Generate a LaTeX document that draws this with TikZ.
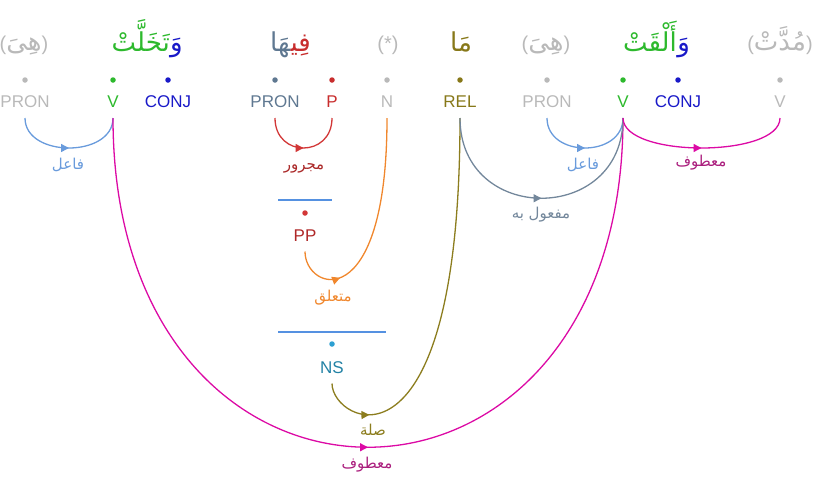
\documentclass[tikz,border=0pt]{standalone}
\usepackage{fontspec}
\setmainfont{Liberation Sans}
\newfontfamily\arabicfont[Script=Arabic]{DejaVu Sans}
\TeXXeTstate=1
\usetikzlibrary{arrows.meta,decorations.markings}

% token colours
\definecolor{cgrey}{RGB}{185,185,185}
\definecolor{cverb}{RGB}{45,185,45}
\definecolor{cconj}{RGB}{25,25,200}
\definecolor{cpron}{RGB}{95,120,145}
\definecolor{cprep}{RGB}{200,45,45}
\definecolor{cpp}{RGB}{175,40,40}
\definecolor{crel}{RGB}{135,120,25}
\definecolor{cns}{RGB}{35,130,165}
\definecolor{cnsdot}{RGB}{45,160,210}
% relation colours
\definecolor{esubj}{RGB}{105,155,220}
\definecolor{egen}{RGB}{210,55,55}
\definecolor{egenlbl}{RGB}{170,40,40}
\definecolor{elink}{RGB}{240,135,45}
\definecolor{erel}{RGB}{140,125,30}
\definecolor{econj}{RGB}{220,10,165}
\definecolor{econjlbl}{RGB}{170,30,125}
\definecolor{eobj}{RGB}{115,135,155}
\definecolor{cbar}{RGB}{85,145,225}

\newcommand\arword[1]{{\arabicfont\fontsize{26}{30}\selectfont\beginR #1\endR}}
\newcommand\arlabel[1]{{\arabicfont\fontsize{15}{18}\selectfont\beginR #1\endR}}

\tikzset{
  word/.style={inner sep=0pt, font=\fontsize{20}{24}\selectfont, anchor=base},
  tag/.style={font=\fontsize{17}{20}\selectfont, inner sep=0pt, text height=12.5pt,
              text depth=0pt, outer ysep=10.5pt, anchor=base, text=#1},
  tok/.style={circle, fill=#1, inner sep=0pt, minimum size=5.5pt},
  rel/.style={inner sep=0pt, text=#1},
  edge/.style={color=#1, line width=1.3pt},
  mid/.style={postaction={decorate}, decoration={markings,
              mark=at position #1 with {\arrow{Triangle[length=8pt,width=8pt]}}}},
  bar/.style={draw=cbar, line width=1.3pt}
}

\begin{document}
\begin{tikzpicture}[x=1pt,y=-1pt]
\useasboundingbox (0,0) rectangle (814,477);

% words (each coloured segment is its own node, laid out right to left)
\node[word, text=cgrey] (w1) at (24,50) {(\arword{هِىَ})};
\node[word, text=cconj, anchor=base east] (w2c) at (183,51) {\arword{وَ}};
\node[word, text=cverb, anchor=base east] (w2v) at (w2c.base west) {\arword{تَخَلَّتْ}};
\node[word, text=cprep, anchor=base east] (w3p) at (311,51) {\arword{فِي^^^^200d}};
\node[word, text=cpron, anchor=base east] (w3n) at (w3p.base west) {\arword{^^^^200dهَا}};
\node[word, text=cgrey] (w4) at (388,50) {(*)};
\node[word, text=crel] (w5) at (461,51) {\arword{مَا}};
\node[word, text=cgrey] (w6) at (546,50) {(\arword{هِىَ})};
\node[word, text=cconj, anchor=base east] (w7c) at (690,51) {\arword{وَ}};
\node[word, text=cverb, anchor=base east] (w7v) at (w7c.base west) {\arword{أَلْقَتْ}};
\node[word, text=cgrey] (w8) at (780,50) {(\arword{مُدَّتْ})};

% token dots
\node[tok=cgrey]  (d1)  at (25,80) {};
\node[tok=cverb]  (d2)  at (113,80) {};
\node[tok=cconj]  (d3)  at (168,80) {};
\node[tok=cpron]  (d4)  at (275,80) {};
\node[tok=cprep]  (d5)  at (332,80) {};
\node[tok=cgrey]  (d6)  at (387,80) {};
\node[tok=crel]   (d7)  at (460,80) {};
\node[tok=cgrey]  (d8)  at (547,80) {};
\node[tok=cverb]  (d9)  at (623,80) {};
\node[tok=cconj]  (d10) at (678,80) {};
\node[tok=cgrey]  (d11) at (780,80) {};

% part-of-speech tags
\node[tag=cgrey] (t1)  at (25,107.5)  {PRON};
\node[tag=cverb] (t2)  at (113,107.5) {V};
\node[tag=cconj] (t3)  at (168,107.5) {CONJ};
\node[tag=cpron] (t4)  at (275,107.5) {PRON};
\node[tag=cprep] (t5)  at (332,107.5) {P};
\node[tag=cgrey] (t6)  at (387,107.5) {N};
\node[tag=crel]  (t7)  at (460,107.5) {REL};
\node[tag=cgrey] (t8)  at (547,107.5) {PRON};
\node[tag=cverb] (t9)  at (623,107.5) {V};
\node[tag=cconj] (t10) at (678,107.5) {CONJ};
\node[tag=cgrey] (t11) at (780,107.5) {V};

% phrase nodes
\draw[bar] (278,200) -- (332,200);
\node[tok=egen] (dpp) at (305,213) {};
\node[tag=cpp] (pp) at (305,241) {PP};
\draw[bar] (278,332) -- (386,332);
\node[tok=cnsdot] (dns) at (332,344) {};
\node[tag=cns] (ns) at (332,373) {NS};

% relations
\draw[edge=esubj, mid=0.5] (t1.south) .. controls +(0,40) and +(0,40) .. (t2.south);
\node[rel=esubj] (l1) at (68,165) {\arlabel{فاعل}};

\draw[edge=egen, mid=0.5] (t4.south) .. controls +(0,40) and +(0,40) .. (t5.south);
\node[rel=egenlbl] (l2) at (304,168) {\arlabel{مجرور}};

\draw[edge=elink, mid=0.23] (pp.south) .. controls +(0,40) and +(0,200) .. (t6.south);
\node[rel=elink] (l3) at (333,298) {\arlabel{متعلق}};

\draw[edge=erel, mid=0.14] (ns.south) .. controls +(0,40) and +(0,370) .. (t7.south);
\node[rel=erel] (l4) at (373,430) {\arlabel{صلة}};

\draw[edge=econj, mid=0.5] (t2.south) .. controls +(0,439) and +(0,439) .. (t9.south);
\node[rel=econjlbl] (l5) at (367,465) {\arlabel{معطوف}};

\draw[edge=esubj, mid=0.5] (t8.south) .. controls +(0,40) and +(0,40) .. (t9.south);
\node[rel=esubj] (l6) at (583,165) {\arlabel{فاعل}};

\draw[edge=eobj, mid=0.5] (t7.south) .. controls +(0,107) and +(0,107) .. (t9.south);
\node[rel=eobj] (l7) at (541,215) {\arlabel{مفعول به}};

\draw[edge=econj, mid=0.5] (t9.south) .. controls +(0,40) and +(0,40) .. (t11.south);
\node[rel=econjlbl] (l8) at (701,163) {\arlabel{معطوف}};
\end{tikzpicture}
\end{document}
